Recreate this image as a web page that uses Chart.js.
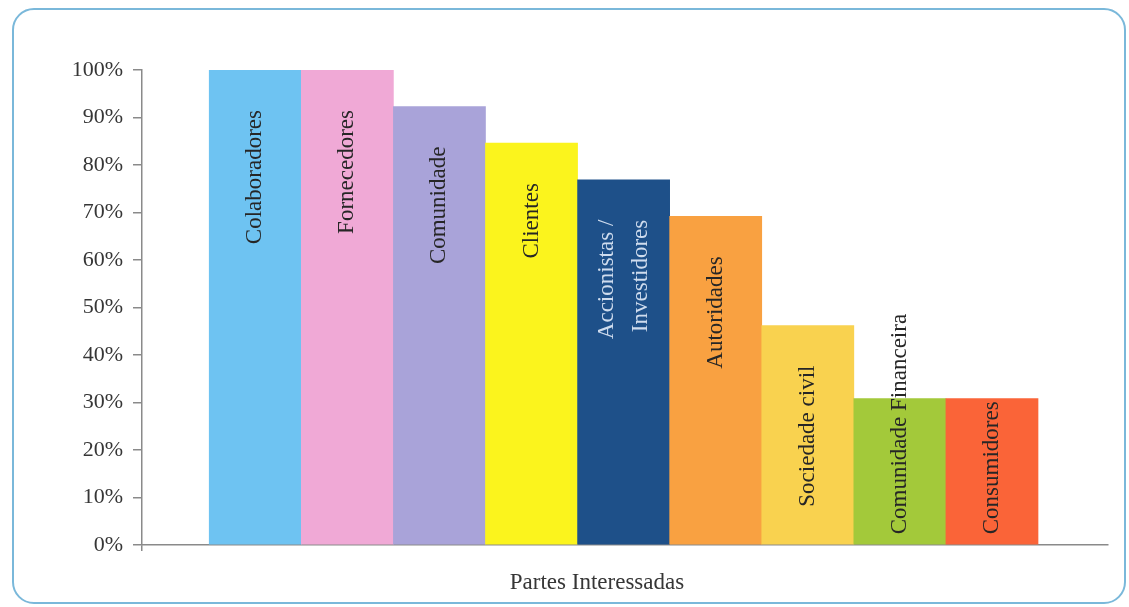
<!DOCTYPE html>
<html>
<head>
<meta charset="utf-8">
<script src="https://cdn.jsdelivr.net/npm/chart.js@4.4.1/dist/chart.umd.min.js"></script>
<style>
    body { margin: 0; background: #fff; }
    #wrap { position: relative; width: 1129px; height: 607px; }
    #frame {
        position: absolute; left: 12px; top: 8px; width: 1110px; height: 592px;
        border: 2px solid #7ab8da; border-radius: 22px; pointer-events: none;
    }
</style>
</head>
<body>
<div id="wrap">
    <div id="frame"></div>
    <canvas id="stakeholderChart"></canvas>
</div>
<script>
const categories = [
    'Colaboradores', 'Fornecedores', 'Comunidade', 'Clientes',
    'Accionistas /\nInvestidores', 'Autoridades', 'Sociedade civil',
    'Comunidade Financeira', 'Consumidores'
];
const shares = [100, 100, 92.3, 84.6, 76.9, 69.2, 46.2, 30.8, 30.8];
const yTicks = [0, 10, 20, 30, 40, 50, 60, 70, 80, 90, 100];
const axisTitle = 'Partes Interessadas';

const barColors = [
    '#6ec3f2', // Colaboradores
    '#f0a9d6', // Fornecedores
    '#a9a3d9', // Comunidade
    '#fbf41d', // Clientes
    '#1e5089', // Accionistas
    '#f9a141', // Autoridades
    '#f9d24f', // Sociedade civil
    '#a3c93a', // Comunidade Financeira
    '#fa6438'  // Consumidores
];
const labelColors = categories.map((c, i) => i === 4 ? '#cfdcee' : '#262626');

const serif = '"Liberation Serif", "Times New Roman", serif';
const axisColor = '#8a8a8a';
const textColor = '#363636';

// labels written up the bars, plus the axis title
const barLabels = {
    id: 'barLabels',
    afterDatasetsDraw(chart) {
        const ctx = chart.ctx;
        const meta = chart.getDatasetMeta(0);
        ctx.save();
        ctx.font = '23px ' + serif;
        meta.data.forEach((bar, i) => {
            const lines = categories[i].split('\n');
            const w = Math.max(...lines.map(l => ctx.measureText(l).width));
            const top = Math.min(bar.y + 40, bar.base - w - 10);
            ctx.save();
            ctx.translate(bar.x, top);
            ctx.rotate(-Math.PI / 2);
            ctx.textAlign = 'right';
            ctx.textBaseline = 'middle';
            ctx.fillStyle = labelColors[i];
            lines.forEach((l, j) => {
                ctx.fillText(l, 0, (j - (lines.length - 1) / 2) * 34);
            });
            ctx.restore();
        });
        const area = chart.chartArea;
        ctx.font = '23px ' + serif;
        ctx.fillStyle = textColor;
        ctx.textAlign = 'center';
        ctx.textBaseline = 'middle';
        ctx.fillText(axisTitle, (area.left + area.right) / 2 - 28, area.bottom + 38);
        ctx.restore();
    }
};

new Chart(document.getElementById('stakeholderChart'), {
    type: 'bar',
    data: {
        datasets: [{
            data: shares.map((v, i) => ({ x: i, y: v })),
            backgroundColor: barColors,
            borderWidth: 0,
            barPercentage: 1,
            categoryPercentage: 1
        }]
    },
    options: {
        responsive: true,
        maintainAspectRatio: false,
        animation: false,
        layout: { padding: { top: 70, right: 21, left: 0, bottom: 0 } },
        plugins: {
            legend: { display: false },
            tooltip: { enabled: false }
        },
        scales: {
            x: {
                type: 'linear',
                offset: false,
                min: -1.23,
                max: 9.26,
                afterBuildTicks: s => { s.ticks = [{ value: s.max }]; },
                afterFit: s => { s.height = 62; },
                ticks: { display: false },
                grid: { drawOnChartArea: false, tickLength: 6, color: axisColor, lineWidth: 1.5 },
                border: { color: axisColor, width: 1.5 }
            },
            y: {
                min: 0,
                max: 100,
                afterBuildTicks: s => { s.ticks = yTicks.map(v => ({ value: v })); },
                afterFit: s => { s.width = 142; },
                ticks: {
                    callback: v => v + '%',
                    color: textColor,
                    padding: 10,
                    font: { family: serif, size: 22 }
                },
                grid: { drawOnChartArea: false, tickLength: 9, color: axisColor, lineWidth: 1.5 },
                border: { color: axisColor, width: 1.5 }
            }
        }
    },
    plugins: [barLabels]
});
</script>
</body>
</html>
